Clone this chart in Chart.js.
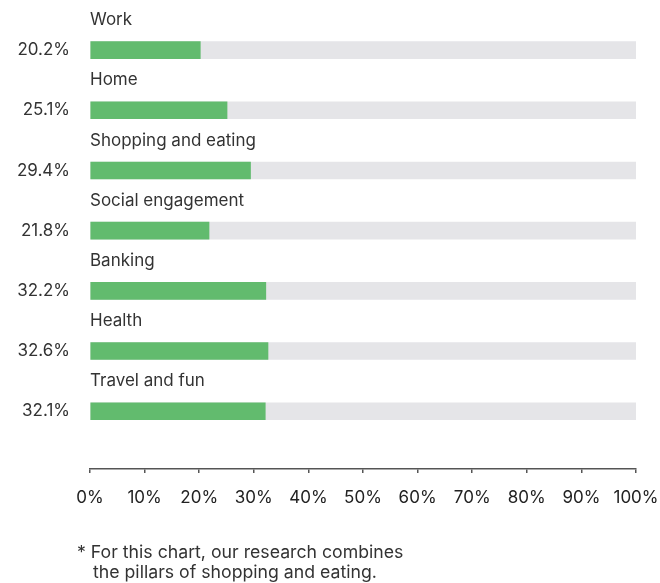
<!DOCTYPE html>
<html>
<head>
<meta charset="utf-8">
<script src="https://cdn.jsdelivr.net/npm/chart.js@4/dist/chart.umd.min.js"></script>
<style>
  html, body { margin: 0; padding: 0; background: #ffffff; }
  #wrap { position: relative; width: 660px; height: 583px; }
  #chart { position: absolute; left: 0; top: 0; }
  .note {
    position: absolute; left: 77px; top: 542px;
    font-family: "Inter", sans-serif; font-size: 17.7px; line-height: 20px;
    color: #333333; white-space: nowrap;
  }
  .note .cont { display: block; padding-left: 16px; }
</style>
</head>
<body>
<div id="wrap">
  <canvas id="chart" width="660" height="583"></canvas>
  <div class="note">* For this chart, our research combines<span class="cont">the pillars of shopping and eating.</span></div>
</div>
<script>
// Pillars and the share of respondents for each
const categories = ["Work", "Home", "Shopping and eating", "Social engagement", "Banking", "Health", "Travel and fun"];
const shares = [20.2, 25.1, 29.4, 21.8, 32.2, 32.6, 32.1];
// Full-width track behind every bar
const track = [100, 100, 100, 100, 100, 100, 100];
const xTicks = [0, 10, 20, 30, 40, 50, 60, 70, 80, 90, 100];

const FONT = '"Inter", sans-serif';

// Category name above each bar and its value to the left
const barLabels = {
  id: 'barLabels',
  afterDraw(chart) {
    const ctx = chart.ctx;
    const y = chart.scales.y;
    const x = chart.scales.x;
    ctx.save();
    ctx.fillStyle = '#333333';
    ctx.font = '17px ' + FONT;
    ctx.textBaseline = 'middle';
    categories.forEach((name, i) => {
      const cy = y.getPixelForValue(i);
      ctx.textAlign = 'left';
      ctx.fillText(name, x.left, cy - 30);
      ctx.textAlign = 'right';
      ctx.fillText(shares[i].toFixed(1) + '%', x.left - 20, cy);
    });
    ctx.restore();
  }
};

new Chart(document.getElementById('chart'), {
  type: 'bar',
  data: {
    datasets: [
      {
        data: shares.map((v, i) => ({ x: v, y: i })),
        backgroundColor: '#62bb6e',
        order: 1
      },
      {
        data: track.map((v, i) => ({ x: v, y: i })),
        backgroundColor: '#e5e5e8',
        order: 2
      }
    ]
  },
  options: {
    indexAxis: 'y',
    responsive: false,
    animation: false,
    layout: { padding: { left: 90, right: 0, top: 20, bottom: 0 } },
    datasets: { bar: { grouped: false, barThickness: 17, borderWidth: 0 } },
    plugins: { legend: { display: false }, tooltip: { enabled: false } },
    scales: {
      y: {
        type: 'linear',
        reverse: true,
        offset: false,
        min: -0.5,
        max: 6.96,
        display: false
      },
      x: {
        type: 'linear',
        min: 0,
        max: 100,
        afterFit(scale) { scale.height = 114; scale.paddingRight = 24; },
        afterBuildTicks(scale) { scale.ticks = xTicks.map(v => ({ value: v })); },
        grid: { drawOnChartArea: false, tickLength: 4, color: '#555555', lineWidth: 1.5 },
        border: { display: true, color: '#555555', width: 1.5 },
        ticks: {
          padding: 15,
          color: '#222222',
          font: { family: FONT, size: 17 },
          maxRotation: 0,
          callback: v => v + '%'
        }
      }
    }
  },
  plugins: [barLabels]
});
</script>
</body>
</html>
